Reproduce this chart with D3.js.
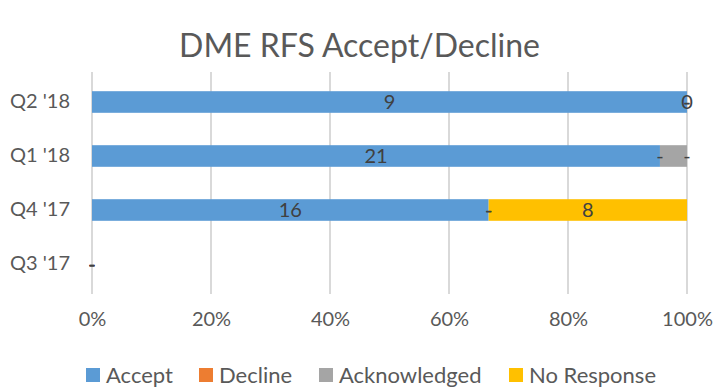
<!DOCTYPE html>
<html>
<head>
<meta charset="utf-8">
<script src="https://cdn.jsdelivr.net/npm/d3@7"></script>
<style>
  body { margin: 0; background: #fff; }
  svg { display: block; font-family: Lato, "Open Sans", sans-serif; }
</style>
</head>
<body>
<svg id="chart" width="717" height="390"></svg>
<script>
// Quarters, top to bottom
const quarters = ["Q2 '18", "Q1 '18", "Q4 '17", "Q3 '17"];
const seriesNames = ["Accept", "Decline", "Acknowledged", "No Response"];
const seriesColors = ["#5B9BD5", "#ED7D31", "#A5A5A5", "#FFC000"];

// Counts per series, in quarter order
const accept       = [9, 21, 16, 0];
const decline      = [0, 0, 0, 0];
const acknowledged = [0, 1, 0, 0];
const noResponse   = [0, 0, 8, 0];

// Data-label text per series ("-" = zero in accounting format, "" = hidden)
const acceptLabels       = ["9", "21", "16", "-"];
const declineLabels      = ["-", "-", "-", "-"];
const acknowledgedLabels = ["0", "", "-", "-"];
const noResponseLabels   = ["-", "-", "8", "-"];

const tickValues = [0, 0.2, 0.4, 0.6, 0.8, 1];

const seriesValues = [accept, decline, acknowledged, noResponse];
const seriesLabels = [acceptLabels, declineLabels, acknowledgedLabels, noResponseLabels];

const rows = quarters.map((q, i) => {
  const row = { quarter: q };
  seriesNames.forEach((s, j) => row[s] = seriesValues[j][i]);
  return row;
});

const stacked = d3.stack()
  .keys(seriesNames)
  .offset(d3.stackOffsetExpand)(rows);

const svg = d3.select("#chart");
const margin = { left: 92, right: 30, top: 75, bottom: 99 };
const W = 717, H = 390;

const x = d3.scaleLinear().domain([0, 1]).range([margin.left, W - margin.right]);
const y = d3.scaleBand().domain(quarters).range([margin.top, H - margin.bottom]).paddingInner(0.6).paddingOuter(0.3);

// Title
svg.append("text")
  .attr("x", W / 2 + 1).attr("y", 57)
  .attr("text-anchor", "middle")
  .attr("fill", "#595959")
  .attr("font-size", 32)
  .text("DME RFS Accept/Decline");

// Vertical gridlines
svg.append("g")
  .selectAll("line")
  .data(tickValues)
  .join("line")
  .attr("x1", d => x(d)).attr("x2", d => x(d))
  .attr("y1", 72).attr("y2", 294)
  .attr("stroke", "#D9D9D9")
  .attr("stroke-width", 2);

// Bottom axis labels
const xAxis = d3.axisBottom(x).tickValues(tickValues).tickFormat(d3.format(".0%")).tickSize(0).tickPadding(0);
const gx = svg.append("g").attr("transform", `translate(0,312)`).call(xAxis);
gx.select(".domain").remove();
gx.selectAll("text").attr("fill", "#595959").attr("font-size", 20).attr("font-family", "Lato, sans-serif");

// Left axis labels
const yAxis = d3.axisLeft(y).tickSize(0).tickPadding(0);
const gy = svg.append("g").attr("transform", `translate(70,0)`).call(yAxis);
gy.select(".domain").remove();
gy.selectAll("text").attr("fill", "#595959").attr("font-size", 20).attr("font-family", "Lato, sans-serif");

// Bars
const layers = svg.append("g")
  .selectAll("g")
  .data(stacked)
  .join("g")
  .attr("fill", (d, i) => seriesColors[i]);

const safe = v => (isNaN(v) ? 0 : v);

layers.selectAll("rect")
  .data(d => d)
  .join("rect")
  .attr("x", d => x(safe(d[0])))
  .attr("width", d => x(safe(d[1])) - x(safe(d[0])))
  .attr("y", d => y(d.data.quarter))
  .attr("height", y.bandwidth());

// Data labels
stacked.forEach((layer, j) => {
  svg.append("g")
    .selectAll("text")
    .data(layer)
    .join("text")
    .attr("x", d => (x(safe(d[0])) + x(safe(d[1]))) / 2)
    .attr("y", d => y(d.data.quarter) + y.bandwidth() / 2)
    .attr("dy", "0.35em")
    .attr("text-anchor", "middle")
    .attr("fill", "#404040")
    .attr("font-size", 20)
    .text((d, i) => seriesLabels[j][i]);
});

// Legend
const legendX = [86, 199, 319, 509];
const legend = svg.append("g")
  .selectAll("g")
  .data(seriesNames)
  .join("g")
  .attr("transform", (d, i) => `translate(${legendX[i]},368)`);
legend.append("rect")
  .attr("width", 14).attr("height", 14)
  .attr("fill", (d, i) => seriesColors[i]);
legend.append("text")
  .attr("x", 20).attr("y", 7).attr("dy", "0.35em")
  .attr("fill", "#595959")
  .attr("font-size", 22)
  .text(d => d);
</script>
</body>
</html>
